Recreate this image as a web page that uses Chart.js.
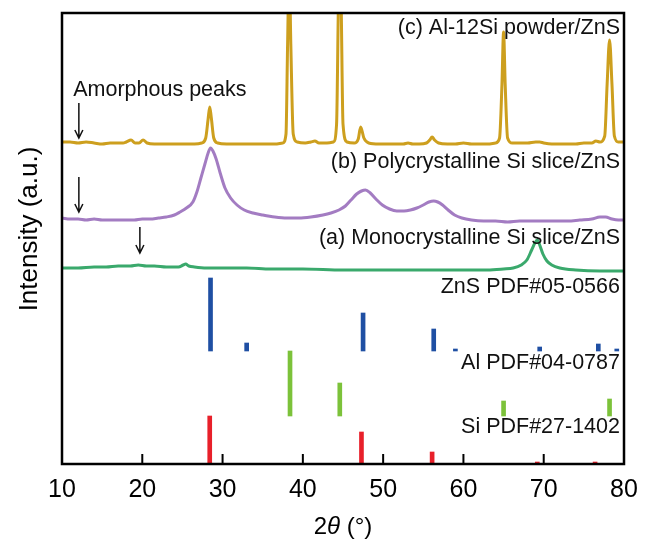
<!DOCTYPE html>
<html>
<head>
<meta charset="utf-8">
<script src="https://cdn.jsdelivr.net/npm/chart.js@4.4.1/dist/chart.umd.min.js"></script>
<style>
  html,body{margin:0;padding:0;background:#fff;}
  #wrap{width:653px;height:543px;position:relative;}
</style>
</head>
<body>
<div id="wrap"><canvas id="xrd"></canvas></div>
<script>
// XRD patterns, intensities in arbitrary offset units (stacked)
const X_TICKS = [10,20,30,40,50,60,70,80];

// (c) Al-12Si powder/ZnS
const cX = [10,11,12,13,14,15,16,17,17.6,18,18.6,19.1,19.6,20.1,20.6,21.5,22.5,23.5,24.5,25.5,26.5,27.4,27.9,28.2,28.4,28.6,28.9,29.4,30.5,31.5,32.5,33.5,34.5,35.5,36.5,37.5,37.9,38.1,38.3,38.5,38.8,39.3,40.3,41.0,41.5,42.0,43.0,43.8,44.2,44.5,44.7,45.0,45.5,46.4,46.9,47.2,47.6,48.2,49.5,50.5,51.5,52.5,53.1,53.7,54.5,55.4,55.8,56.1,56.4,56.9,58,59,60,61,62,63,64,64.5,64.8,65.0,65.2,65.5,66.1,67,68,69,69.5,70,71,72,73,74,75,76,76.5,77,77.6,77.9,78.2,78.5,78.8,79.3,80];
const cY = [322,322,321,322,321,320,321,321,321,322,324,321,321,324,321,320,320,320,320,320,320,321,326,345,357,346,326,321,320,320,320,320,320,320,320,321,330,420,500,420,330,322,321,322,323,321,321,322,340,480,480,340,322,321,325,337,326,321,320,320,320,320,321,320,320,321,324,327,324,321,320,320,321,320,320,320,321,326,380,432,380,326,321,321,321,322,322,321,320,320,320,320,321,321,323,322,328,380,424,380,328,322,322];

// (b) Polycrystalline Si slice/ZnS
const bX = [10,11,12,13,14,15,16,17,18,19,20,21,22,23,24,24.7,25.5,26.3,26.8,27.3,27.8,28.2,28.5,28.8,29.2,29.7,30.3,31,31.8,32.7,33.8,35,36.5,38,39.5,41,42.5,43.5,44.5,45.3,46,46.7,47.3,47.8,48.4,49.1,49.9,50.8,51.7,52.6,53.4,54.2,55,55.7,56.3,56.8,57.4,58.1,58.9,59.8,61,62.5,64,65.5,67,68.5,70,71.5,73,74.5,76,77,77.7,78.5,79.3,80];
const bY = [246,245,245,244,245,244,244,244,244,244,245,245,246,247,249,252,256,262,272,286,300,311,316,313,305,291,276,266,259,254,251,249,247,246,246,247,249,251,254,258,264,270,273,274,271,265,259,255,253,253,254,256,259,262,263,262,259,254,249,246,244,243,243,242,243,243,243,243,243,244,245,247,247,245,244,244];

// (a) Monocrystalline Si slice/ZnS
const aX = [10,12,14,15.5,17,18.5,19.5,20.5,21.5,23,24.5,25.1,25.4,25.8,26.5,28,30,33,36,40,45,50,55,60,63,65,66.2,67.2,67.9,68.5,68.9,69.2,69.5,69.9,70.4,71,72,74,77,80];
const aY = [196,196,197,197,198,198,199,198,198,197,197,199,200,198,197,196,196,196,195,195,194,194,194,194,194,195,196,199,204,214,221,224,219,210,203,199,196,194,193,193];

// reference stick patterns: position, base and top
const znsPos = [28.5,33.0,47.5,56.3,59.0,69.5,76.8,79.1];
const znsTop = [186,121,151,135,115,117,120,115];
const znsBase = 113;
const alPos = [38.4,44.6,65.0,78.2];
const alTop = [113,81,63,65];
const alBase = 48;
const siPos = [28.4,47.3,56.1,69.2,76.4];
const siTop = [48,32,12,2,2];
const siBase = 0;

const FONT = '"Liberation Sans", Arial, sans-serif';
const pts = (xs,ys)=>xs.map((x,i)=>({x, y:ys[i]}));
const sticks = (xs,tops,base)=>xs.map((x,i)=>({x, y:[base, tops[i]]}));

const curve = (data,color)=>({type:'line',data,borderColor:color,borderWidth:3,pointRadius:0,cubicInterpolationMode:'monotone',fill:false});
const stickSet = (data,color)=>({type:'bar',data,backgroundColor:color,borderWidth:0,barThickness:4,grouped:false});

// labels placed in data coordinates
const LABELS = [
  {t:"(c) Al-12Si powder/ZnS", x:79.5, y:436, align:"right"},
  {t:"(b) Polycrystalline Si slice/ZnS", x:79.5, y:302, align:"right"},
  {t:"(a) Monocrystalline Si slice/ZnS", x:79.5, y:226, align:"right"},
  {t:"ZnS PDF#05-0566", x:79.5, y:177, align:"right"},
  {t:"Al PDF#04-0787", x:79.5, y:101, align:"right"},
  {t:"Si PDF#27-1402", x:79.5, y:37, align:"right"},
  {t:"Amorphous peaks", x:11.4, y:374, align:"left"}
];
const ARROWS = [ {x:12.1, y1:361, y2:326}, {x:12.1, y1:287, y2:252}, {x:19.7, y1:237, y2:211} ];

const decor = {
  id:'decor',
  afterDatasetsDraw(chart){
    const {ctx, chartArea:a, scales:{x,y}} = chart;
    ctx.save();
    ctx.fillStyle = '#111';
    ctx.font = '21.5px ' + FONT;
    ctx.textBaseline = 'middle';
    LABELS.forEach(l=>{ ctx.textAlign = l.align; ctx.fillText(l.t, x.getPixelForValue(l.x), y.getPixelForValue(l.y)); });
    ctx.strokeStyle = '#111'; ctx.lineWidth = 1.5;
    ARROWS.forEach(ar=>{
      const px = x.getPixelForValue(ar.x), p1 = y.getPixelForValue(ar.y1), p2 = y.getPixelForValue(ar.y2);
      ctx.beginPath(); ctx.moveTo(px,p1); ctx.lineTo(px,p2);
      ctx.moveTo(px-4,p2-8); ctx.lineTo(px,p2); ctx.lineTo(px+4,p2-8); ctx.stroke();
    });
    // frame + inward ticks
    ctx.strokeStyle = '#000'; ctx.lineWidth = 2.5;
    ctx.strokeRect(a.left, a.top, a.right-a.left, a.bottom-a.top);
    ctx.lineWidth = 2;
    x.ticks.forEach(t=>{ const px = x.getPixelForValue(t.value); ctx.beginPath(); ctx.moveTo(px,a.bottom); ctx.lineTo(px,a.bottom-10); ctx.stroke(); });
    // axis titles
    ctx.fillStyle = '#000';
    ctx.textBaseline = 'middle';
    const cx = (a.left+a.right)/2, ty = 527;
    const p1 = '2', p2 = 'θ', p3 = ' (°)';
    ctx.font = '24px ' + FONT; const w1 = ctx.measureText(p1).width, w3 = ctx.measureText(p3).width;
    ctx.font = 'italic 24px ' + FONT; const w2 = ctx.measureText(p2).width;
    let sx = cx - (w1+w2+w3)/2;
    ctx.textAlign = 'left';
    ctx.font = '24px ' + FONT; ctx.fillText(p1, sx, ty);
    ctx.font = 'italic 24px ' + FONT; ctx.fillText(p2, sx+w1, ty);
    ctx.font = '24px ' + FONT; ctx.fillText(p3, sx+w1+w2, ty);
    ctx.translate(30, 229); ctx.rotate(-Math.PI/2);
    ctx.textAlign = 'center'; ctx.font = '26px ' + FONT;
    ctx.fillText('Intensity (a.u.)', 0, 0);
    ctx.restore();
  }
};

new Chart(document.getElementById('xrd'), {
  type:'line',
  data:{datasets:[
    curve(pts(cX,cY),'#cd9f1e'),
    curve(pts(bX,bY),'#a37cc2'),
    curve(pts(aX,aY),'#3aa96c'),
    stickSet(sticks(znsPos,znsTop,znsBase),'#1f4fa3'),
    stickSet(sticks(alPos,alTop,alBase),'#7cc23a'),
    stickSet(sticks(siPos,siTop,siBase),'#e8202a')
  ]},
  options:{
    responsive:true, maintainAspectRatio:false, animation:false,
    layout:{padding:{left:62,right:29,top:13,bottom:27}},
    plugins:{legend:{display:false}, tooltip:{enabled:false}},
    scales:{
      x:{type:'linear', min:10, max:80, offset:false,
         ticks:{stepSize:10, padding:11, color:'#000', font:{family:FONT, size:25}, maxRotation:0, callback:v=>X_TICKS.includes(v)?String(v):''},
         grid:{display:false, drawTicks:false}, border:{display:false}},
      y:{type:'linear', min:0, max:451, display:false}
    }
  },
  plugins:[decor]
});
</script>
</body>
</html>
